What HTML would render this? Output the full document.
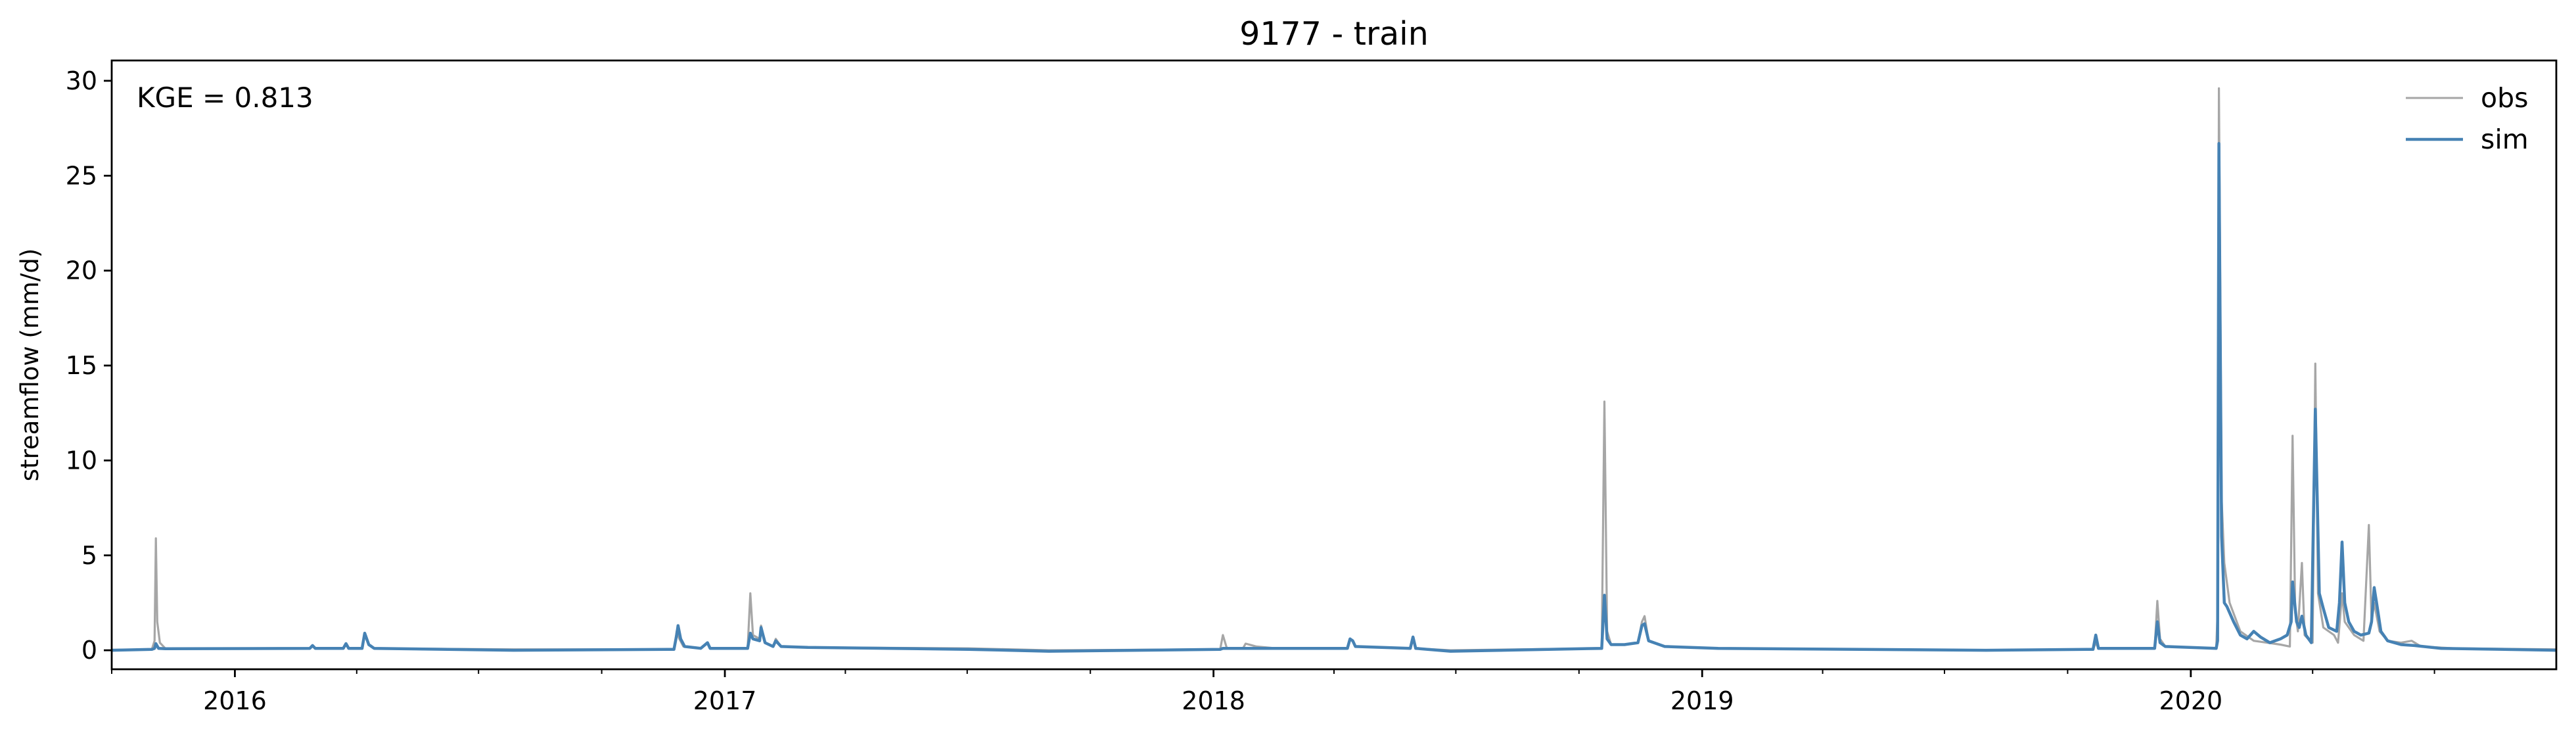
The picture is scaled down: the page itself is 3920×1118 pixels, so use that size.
<!DOCTYPE html>
<html><head><meta charset="utf-8"><style>
html,body{margin:0;padding:0;background:#fff;}
svg{display:block;font-family:"DejaVu Sans","Liberation Sans",sans-serif;}
</style></head><body>
<svg id="chart" width="3920" height="1118" viewBox="0 0 3920 1118">
<rect x="0" y="0" width="3920" height="1118" fill="#fff"/>
<text x="2030" y="68" font-size="49" text-anchor="middle">9177 - train</text>
<text x="0" y="0" font-size="37" text-anchor="middle" transform="translate(58,555) rotate(-90)">streamflow (mm/d)</text>
<g id="plot"></g>
<rect x="170" y="92" width="3720" height="926" fill="none" stroke="#000" stroke-width="2.8"/>
<text x="208" y="163" font-size="42">KGE = 0.813</text>
<g>
<line x1="3661" y1="149" x2="3748" y2="149" stroke="#a6a6a6" stroke-width="3"/>
<text x="3775" y="163" font-size="41">obs</text>
<line x1="3661" y1="212" x2="3748" y2="212" stroke="#4682b4" stroke-width="4.5"/>
<text x="3775" y="226" font-size="41">sim</text>
</g>
</svg>
<script>
const startDate = "2015-10-01";
const endDate = "2020-09-30";
const yTicks = [0, 5, 10, 15, 20, 25, 30];
const yearTicks = ["2016", "2017", "2018", "2019", "2020"];
const obsDays = [0,30,32,33,34,36,40,148,150,152,173,175,177,187,189,192,196,300,420,422,424,427,440,445,447,475,477,479,484,485,488,494,496,500,520,640,700,828,830,833,845,847,855,870,923,925,927,929,970,972,974,1000,1113,1115,1117,1120,1130,1140,1143,1145,1148,1160,1200,1400,1480,1482,1484,1526,1528,1530,1534,1572,1573,1574,1576,1578,1582,1590,1600,1620,1627,1629,1631,1633,1636,1638,1642,1644,1646,1648,1652,1660,1663,1666,1668,1675,1682,1686,1688,1690,1694,1700,1710,1718,1725,1750,1826];
const obsVals = [0.02,0.05,0.5,5.9,1.5,0.4,0.1,0.1,0.25,0.1,0.1,0.3,0.1,0.1,0.8,0.3,0.1,0.05,0.05,1.0,0.6,0.2,0.1,0.4,0.1,0.1,3.0,0.8,0.6,1.3,0.4,0.2,0.6,0.2,0.15,0.1,0.0,0.05,0.8,0.1,0.1,0.35,0.2,0.1,0.1,0.6,0.5,0.2,0.1,0.7,0.1,0.0,0.1,13.1,1.0,0.3,0.3,0.4,1.5,1.8,0.5,0.2,0.1,0.0,0.05,0.4,0.1,0.1,2.6,0.6,0.2,0.1,2.0,29.6,8.0,4.6,2.5,1.0,0.5,0.3,0.2,11.3,2.0,1.0,4.6,0.8,0.5,0.4,15.1,3.0,1.2,0.8,0.4,3.0,1.5,0.8,0.5,6.6,1.5,2.5,1.0,0.5,0.4,0.5,0.2,0.1,0.05];
const simDays = [0,30,32,33,35,40,148,150,152,173,175,177,187,189,192,196,300,420,422,423,425,428,440,445,447,475,477,479,484,485,488,494,496,500,520,640,700,828,830,833,923,925,927,929,970,972,974,1000,1113,1115,1117,1120,1130,1140,1143,1145,1148,1160,1200,1400,1480,1482,1484,1526,1528,1530,1534,1572,1573,1574,1576,1578,1580,1585,1590,1595,1600,1605,1612,1620,1625,1628,1629,1632,1634,1636,1639,1643,1646,1649,1652,1656,1662,1664,1666,1668,1671,1675,1680,1686,1688,1690,1692,1695,1700,1710,1720,1740,1826];
const simVals = [0.0,0.05,0.1,0.35,0.1,0.08,0.1,0.25,0.1,0.1,0.35,0.1,0.1,0.9,0.3,0.1,0.0,0.05,0.8,1.3,0.6,0.2,0.1,0.4,0.1,0.1,0.9,0.6,0.5,1.2,0.4,0.2,0.5,0.2,0.15,0.05,-0.05,0.05,0.1,0.1,0.1,0.6,0.5,0.2,0.1,0.7,0.1,-0.05,0.1,2.9,0.6,0.3,0.3,0.4,1.3,1.4,0.5,0.2,0.1,0.0,0.05,0.8,0.1,0.1,1.5,0.4,0.2,0.1,0.5,26.7,6.0,2.5,2.3,1.5,0.8,0.6,1.0,0.7,0.4,0.6,0.8,1.5,3.6,1.5,1.2,1.8,0.8,0.4,12.7,3.0,2.2,1.2,1.0,2.5,5.7,2.5,1.5,1.0,0.8,0.9,1.5,3.3,2.4,1.0,0.5,0.3,0.25,0.1,0.0];

const X0 = 170, X1 = 3890, Y0 = 1018, Y1 = 92;
const yMin = -1.0, yMax = 31.07;
const t0 = Date.parse(startDate + "T00:00:00Z"), t1 = Date.parse(endDate + "T00:00:00Z");
const totalDays = (t1 - t0) / 86400000;
function xDay(d) { return X0 + d / totalDays * (X1 - X0); }
function xDate(s) { return xDay((Date.parse(s + "T00:00:00Z") - t0) / 86400000); }
function yVal(v) { return Y0 - (v - yMin) / (yMax - yMin) * (Y0 - Y1); }

const NS = "http://www.w3.org/2000/svg";
const svg = document.getElementById("chart");
const plot = document.getElementById("plot");
function mk(tag, attrs, parent) {
  const el = document.createElementNS(NS, tag);
  for (const k in attrs) el.setAttribute(k, attrs[k]);
  parent.appendChild(el);
  return el;
}

yTicks.forEach(v => {
  const y = yVal(v);
  const t = mk("line", {x1: X0 - 12, y1: y, x2: X0, y2: y, stroke: "#000", "stroke-width": 2.8}, svg);
  
  
  const l = mk("text", {x: X0 - 22, y: y + 13, "font-size": 38, "text-anchor": "end"}, svg);
  l.textContent = v;
  
  
});

yearTicks.forEach(yr => {
  const x = xDate(yr + "-01-01");
  const t = mk("line", {x1: x, y1: Y0, x2: x, y2: Y0 + 12, stroke: "#000", "stroke-width": 2.8}, svg);
  
  
  const l = mk("text", {x: x, y: 1079, "font-size": 38, "text-anchor": "middle"}, svg);
  l.textContent = yr;
  
  
});
for (let yr = 2015; yr <= 2020; yr++) {
  ["-04-01", "-07-01", "-10-01"].forEach(md => {
    const x = xDate(yr + md);
    if (x < X0 - 1 || x > X1 + 1) return;
    const t = mk("line", {x1: x, y1: Y0, x2: x, y2: Y0 + 7, stroke: "#000", "stroke-width": 2}, svg);
    
    
  });
}

function series(days, vals, color, w, name) {
  const pts = days.map((d, i) => xDay(d).toFixed(1) + "," + yVal(vals[i]).toFixed(1)).join(" ");
  const p = mk("polyline", {points: pts, fill: "none", stroke: color, "stroke-width": w, "stroke-linejoin": "round"}, plot);
  
  
}
series(obsDays, obsVals, "#a6a6a6", 3.2, "obs-line");
series(simDays, simVals, "#4682b4", 4.5, "sim-line");
</script>
</body></html>
